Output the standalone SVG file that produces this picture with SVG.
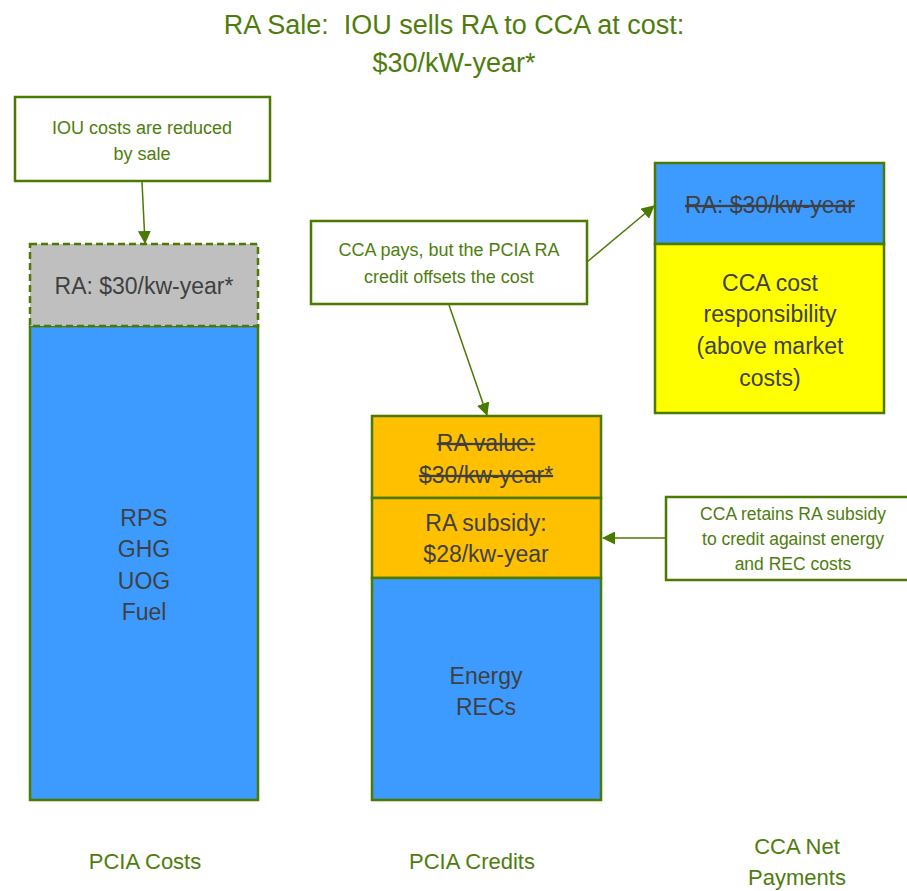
<svg xmlns="http://www.w3.org/2000/svg" width="907" height="891" viewBox="0 0 907 891">
<style>
.t{font-family:"Liberation Sans",Arial,sans-serif;text-anchor:middle}
.g{fill:#4E7D0E}
.d{fill:#404040}
.b{stroke:#4B7A00;stroke-width:2.5}
.c{fill:#fff;stroke:#4B7A00;stroke-width:2.5}
.s{text-decoration:line-through}
.con{stroke:#4B7A00;stroke-width:1.5;fill:none}
</style>
<defs>
<marker id="ah" markerWidth="13" markerHeight="13" refX="12" refY="6.5" orient="auto" markerUnits="userSpaceOnUse" viewBox="0 0 13 13">
<path d="M0,0 L13,6.5 L0,13 z" fill="#4B7A00"/>
</marker>
</defs>
<rect width="907" height="891" fill="#fff"/>
<g id="title">
<text class="t g" x="454" y="34" font-size="27">RA Sale:&#160; IOU sells RA to CCA at cost:</text>
<text class="t g" x="454" y="72" font-size="27">$30/kW-year*</text>
</g>
<g id="pcia-costs">
<rect x="30" y="326" width="228" height="474" fill="#3D9BFF" class="b"/>
<text class="t d" font-size="23"><tspan x="144" y="526">RPS</tspan><tspan x="144" y="557">GHG</tspan><tspan x="144" y="589">UOG</tspan><tspan x="144" y="620">Fuel</tspan></text>
</g>
<g id="ra-gray">
<rect x="30" y="244" width="228" height="82" fill="#BFBFBF" stroke="#4B7A00" stroke-width="2.5" stroke-dasharray="7,4"/>
<text class="t d" x="144" y="294" font-size="23">RA: $30/kw-year*</text>
</g>
<g id="callout-iou">
<rect x="15" y="97" width="255" height="84" class="c"/>
<text class="t g" font-size="18"><tspan x="142" y="134">IOU costs are reduced</tspan><tspan x="142" y="160">by sale</tspan></text>
</g>
<g id="callout-cca-pays">
<rect x="311" y="221" width="276" height="83" class="c"/>
<text class="t g" font-size="18"><tspan x="449" y="256">CCA pays, but the PCIA RA</tspan><tspan x="449" y="283">credit offsets the cost</tspan></text>
</g>
<g id="ra-value">
<rect x="372" y="416" width="229" height="82" fill="#FFC000" class="b"/>
<text class="t d s" font-size="23"><tspan x="486" y="451">RA value:</tspan><tspan x="486" y="483">$30/kw-year*</tspan></text>
</g>
<g id="ra-subsidy">
<rect x="372" y="498" width="229" height="80" fill="#FFC000" class="b"/>
<text class="t d" font-size="23"><tspan x="486" y="531">RA subsidy:</tspan><tspan x="486" y="562">$28/kw-year</tspan></text>
</g>
<g id="energy-recs">
<rect x="372" y="578" width="229" height="222" fill="#3D9BFF" class="b"/>
<text class="t d" font-size="23"><tspan x="486" y="684">Energy</tspan><tspan x="486" y="715">RECs</tspan></text>
</g>
<g id="cca-ra">
<rect x="655" y="163" width="229" height="81" fill="#3D9BFF" class="b"/>
<text class="t d s" x="770" y="213" font-size="23">RA: $30/kw-year</text>
</g>
<g id="cca-cost">
<rect x="655" y="244" width="229" height="169" fill="#FFFF00" class="b"/>
<text class="t d" font-size="23"><tspan x="770" y="291">CCA cost</tspan><tspan x="770" y="322">responsibility</tspan><tspan x="770" y="354">(above market</tspan><tspan x="770" y="386">costs)</tspan></text>
</g>
<g id="callout-retains">
<rect x="666" y="497" width="245" height="83" class="c"/>
<text class="t g" font-size="17.5"><tspan x="793" y="520">CCA retains RA subsidy</tspan><tspan x="793" y="545">to credit against energy</tspan><tspan x="793" y="570">and REC costs</tspan></text>
</g>
<g id="connectors">
<line x1="142" y1="182" x2="145" y2="243" class="con" marker-end="url(#ah)"/>
<line x1="449" y1="305" x2="487" y2="415" class="con" marker-end="url(#ah)"/>
<line x1="587" y1="262" x2="654" y2="206" class="con" marker-end="url(#ah)"/>
<line x1="666" y1="538" x2="603" y2="538" class="con" marker-end="url(#ah)"/>
</g>
<g id="labels">
<text class="t g" x="145" y="869" font-size="22">PCIA Costs</text>
<text class="t g" x="472" y="869" font-size="22">PCIA Credits</text>
<text class="t g" font-size="22"><tspan x="797" y="854">CCA Net</tspan><tspan x="797" y="885">Payments</tspan></text>
</g>
</svg>
